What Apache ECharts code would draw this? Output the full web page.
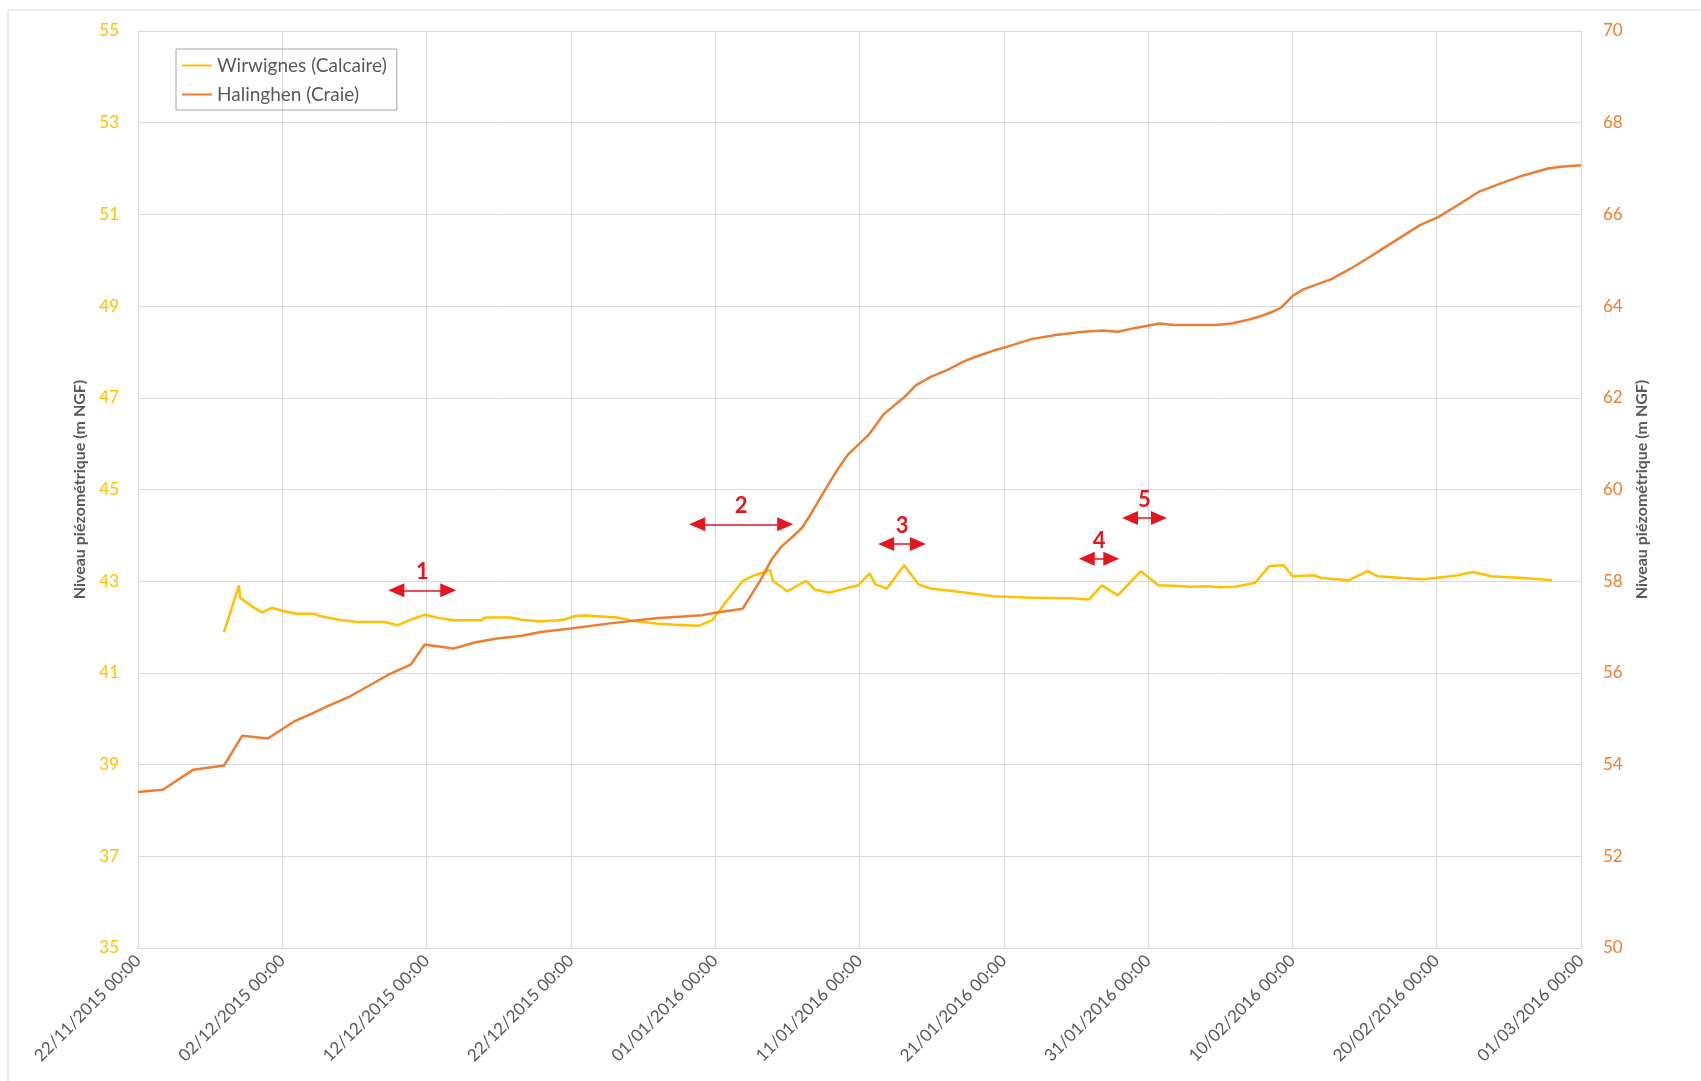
<!DOCTYPE html>
<html>
<head>
<meta charset="utf-8">
<title>Niveau piézométrique</title>
<script src="https://cdn.jsdelivr.net/npm/echarts@6/dist/echarts.min.js"></script>
<style>
    html, body { margin: 0; padding: 0; background: #fff; }
    #box { width: 1701px; height: 1081px; }
</style>
</head>
<body>
<div id="box"></div>
<script>
// jours depuis le 22/11/2015 00:00
var startDate = Date.UTC(2015, 10, 22);

// Wirwignes (Calcaire) - axe gauche
var wirDays = [5.96, 7.0, 7.07, 7.95, 8.6, 9.27, 10.07, 11.0, 12.2, 12.6, 13.9, 15.2, 17.1, 18.0, 18.9, 19.9, 20.8, 21.9, 23.8, 24.1,
    25.8, 26.6, 27.9, 29.5, 30.3, 31.1, 33.2, 34.4, 35.9, 37.2, 38.9, 39.8, 40.7, 41.9, 42.7, 43.5, 43.8, 44.0, 45.0, 46.3,
    46.9, 47.9, 49.9, 50.7, 51.1, 51.9, 53.1, 54.1, 54.9, 56.6, 59.3, 61.9, 64.6, 65.9, 66.8, 67.9, 69.5, 70.7, 71.8, 72.9,
    74.1, 75.0, 76.0, 77.4, 78.4, 79.4, 80.0, 81.5, 82.0, 83.9, 85.2, 85.9, 87.6, 89.1, 90.5, 91.5, 92.5, 93.8, 96.0, 98.0];
var wirLevels = [41.89, 42.91, 42.64, 42.44, 42.32, 42.42, 42.35, 42.29, 42.29, 42.24, 42.16, 42.11, 42.11, 42.04, 42.16, 42.27, 42.2, 42.15, 42.15, 42.21,
    42.21, 42.16, 42.12, 42.16, 42.24, 42.25, 42.21, 42.13, 42.08, 42.05, 42.03, 42.15, 42.53, 43.0, 43.13, 43.2, 43.25, 43.01, 42.78, 43.01,
    42.82, 42.75, 42.91, 43.17, 42.93, 42.84, 43.35, 42.93, 42.84, 42.78, 42.67, 42.64, 42.63, 42.6, 42.91, 42.69, 43.22, 42.91, 42.9, 42.88,
    42.89, 42.87, 42.88, 42.96, 43.33, 43.35, 43.11, 43.13, 43.07, 43.02, 43.22, 43.11, 43.07, 43.04, 43.09, 43.13, 43.2, 43.11, 43.07, 43.02];

// Halinghen (Craie) - axe droit
var halDays = [0, 1.72, 3.84, 5.96, 7.23, 9.0, 10.86, 11.9, 13.1, 14.7, 17.35, 18.9, 19.87, 21.85, 23.4, 24.9, 26.6, 27.9, 30.0, 32.7,
    35.9, 39.1, 40.0, 41.9, 43.1, 43.9, 44.6, 45.4, 46.0, 46.6, 47.5, 48.4, 49.2, 50.0, 50.6, 51.7, 53.1, 53.9, 54.9, 56.1,
    57.2, 58.1, 59.3, 60.2, 61.9, 63.6, 65.5, 66.9, 67.9, 69.2, 70.8, 71.8, 74.7, 75.8, 76.9, 77.8, 78.5, 79.2, 80.0, 80.8,
    82.7, 84.0, 85.3, 86.4, 87.5, 88.8, 90.1, 91.5, 92.9, 94.4, 96.0, 97.7, 98.6, 100];
var halLevels = [53.40, 53.45, 53.89, 53.98, 54.63, 54.57, 54.95, 55.09, 55.27, 55.49, 55.96, 56.18, 56.62, 56.53, 56.67, 56.75, 56.81, 56.89, 56.97, 57.08,
    57.19, 57.26, 57.31, 57.40, 58.0, 58.47, 58.76, 58.98, 59.16, 59.45, 59.93, 60.4, 60.76, 61.0, 61.18, 61.65, 62.01, 62.27, 62.45, 62.61,
    62.79, 62.90, 63.03, 63.11, 63.28, 63.37, 63.44, 63.47, 63.44, 63.53, 63.62, 63.59, 63.59, 63.62, 63.70, 63.78, 63.86, 63.96, 64.22, 64.37,
    64.59, 64.81, 65.06, 65.28, 65.5, 65.76, 65.94, 66.21, 66.49, 66.67, 66.85, 67.0, 67.04, 67.07];

// flèches rouges numérotées (axe gauche), centres des pointes
var arrowLabels = ['1', '2', '3', '4', '5'];
var arrowStarts = [17.9, 38.75, 51.85, 65.75, 68.75];
var arrowEnds = [21.5, 44.85, 54.05, 67.45, 70.75];
var arrowLevels = [42.80, 44.24, 43.81, 43.49, 44.38];

function pair(xs, ys) {
    return xs.map(function(x, i) { return [x, ys[i]]; });
}

function fmtDate(v) {
    var d = new Date(startDate + v * 86400000);
    var dd = ('0' + d.getUTCDate()).slice(-2);
    var mm = ('0' + (d.getUTCMonth() + 1)).slice(-2);
    return dd + '/' + mm + '/' + d.getUTCFullYear() + ' 00:00';
}

var gray = '#595959';
var gridColor = '#d9d9d9';
var font = 'Lato';
var yTitle = 'Niveau piézométrique (m NGF)';

var myChart = echarts.init(document.getElementById('box'));
var option = {
    animation: false,
    backgroundColor: '#fff',
    textStyle: { fontFamily: font },
    graphic: [{
        type: 'rect',
        shape: { x: 8, y: 10, width: 1760, height: 1200 },
        style: { fill: 'none', stroke: '#d9d9d9', lineWidth: 1 },
        silent: true
    }],
    grid: { left: 138, right: 120, top: 31, bottom: 133 },
    legend: {
        orient: 'vertical',
        left: 176,
        top: 49,
        padding: [7, 10, 6, 6],
        itemWidth: 30,
        itemHeight: 2,
        itemGap: 10,
        icon: 'rect',
        borderColor: '#a6a6a6',
        borderWidth: 1,
        textStyle: { fontSize: 19, color: gray, fontFamily: font },
        data: ['Wirwignes (Calcaire)', 'Halinghen (Craie)']
    },
    xAxis: {
        type: 'value',
        min: 0,
        max: 100,
        interval: 10,
        axisLine: { lineStyle: { color: gridColor } },
        axisTick: { show: false },
        splitLine: { show: true, lineStyle: { color: gridColor } },
        axisLabel: {
            rotate: 45,
            fontSize: 17,
            color: gray,
            margin: 10,
            formatter: fmtDate
        }
    },
    yAxis: [{
            type: 'value',
            position: 'left',
            min: 35,
            max: 55,
            interval: 2,
            name: yTitle,
            nameLocation: 'middle',
            nameRotate: 90,
            nameGap: 50,
            nameTextStyle: { fontSize: 16, fontWeight: 'bold', color: gray },
            axisLine: { show: false },
            axisTick: { show: false },
            splitLine: { lineStyle: { color: gridColor } },
            axisLabel: { fontSize: 17, color: '#FFC000', margin: 19 }
        },
        {
            type: 'value',
            position: 'right',
            min: 50,
            max: 70,
            interval: 2,
            name: yTitle,
            nameLocation: 'middle',
            nameRotate: 90,
            nameGap: 52,
            nameTextStyle: { fontSize: 16, fontWeight: 'bold', color: gray },
            axisLine: { show: false },
            axisTick: { show: false },
            splitLine: { show: false },
            axisLabel: { fontSize: 17, color: '#ED7D31', margin: 22 }
        }
    ],
    series: [{
            name: 'Wirwignes (Calcaire)',
            type: 'line',
            yAxisIndex: 0,
            symbol: 'none',
            color: '#FFC000',
            lineStyle: { width: 2.5, color: '#FFC000' },
            data: pair(wirDays, wirLevels),
            markLine: {
                silent: true,
                symbol: ['triangle', 'triangle'],
                symbolSize: [14, 16],
                lineStyle: { color: '#e3161f', width: 1.5, type: 'solid' },
                label: {
                    show: true,
                    position: 'middle',
                    formatter: '{b}',
                    color: '#e3161f',
                    fontSize: 22,
                    fontWeight: 'bold',
                    distance: 7
                },
                data: arrowStarts.map(function(s, i) {
                    return [
                        { name: arrowLabels[i], coord: [s, arrowLevels[i]] },
                        { coord: [arrowEnds[i], arrowLevels[i]] }
                    ];
                })
            }
        },
        {
            name: 'Halinghen (Craie)',
            type: 'line',
            yAxisIndex: 1,
            symbol: 'none',
            color: '#ED7D31',
            lineStyle: { width: 2.5, color: '#ED7D31' },
            data: pair(halDays, halLevels)
        }
    ]
};
myChart.setOption(option);
</script>
</body>
</html>
